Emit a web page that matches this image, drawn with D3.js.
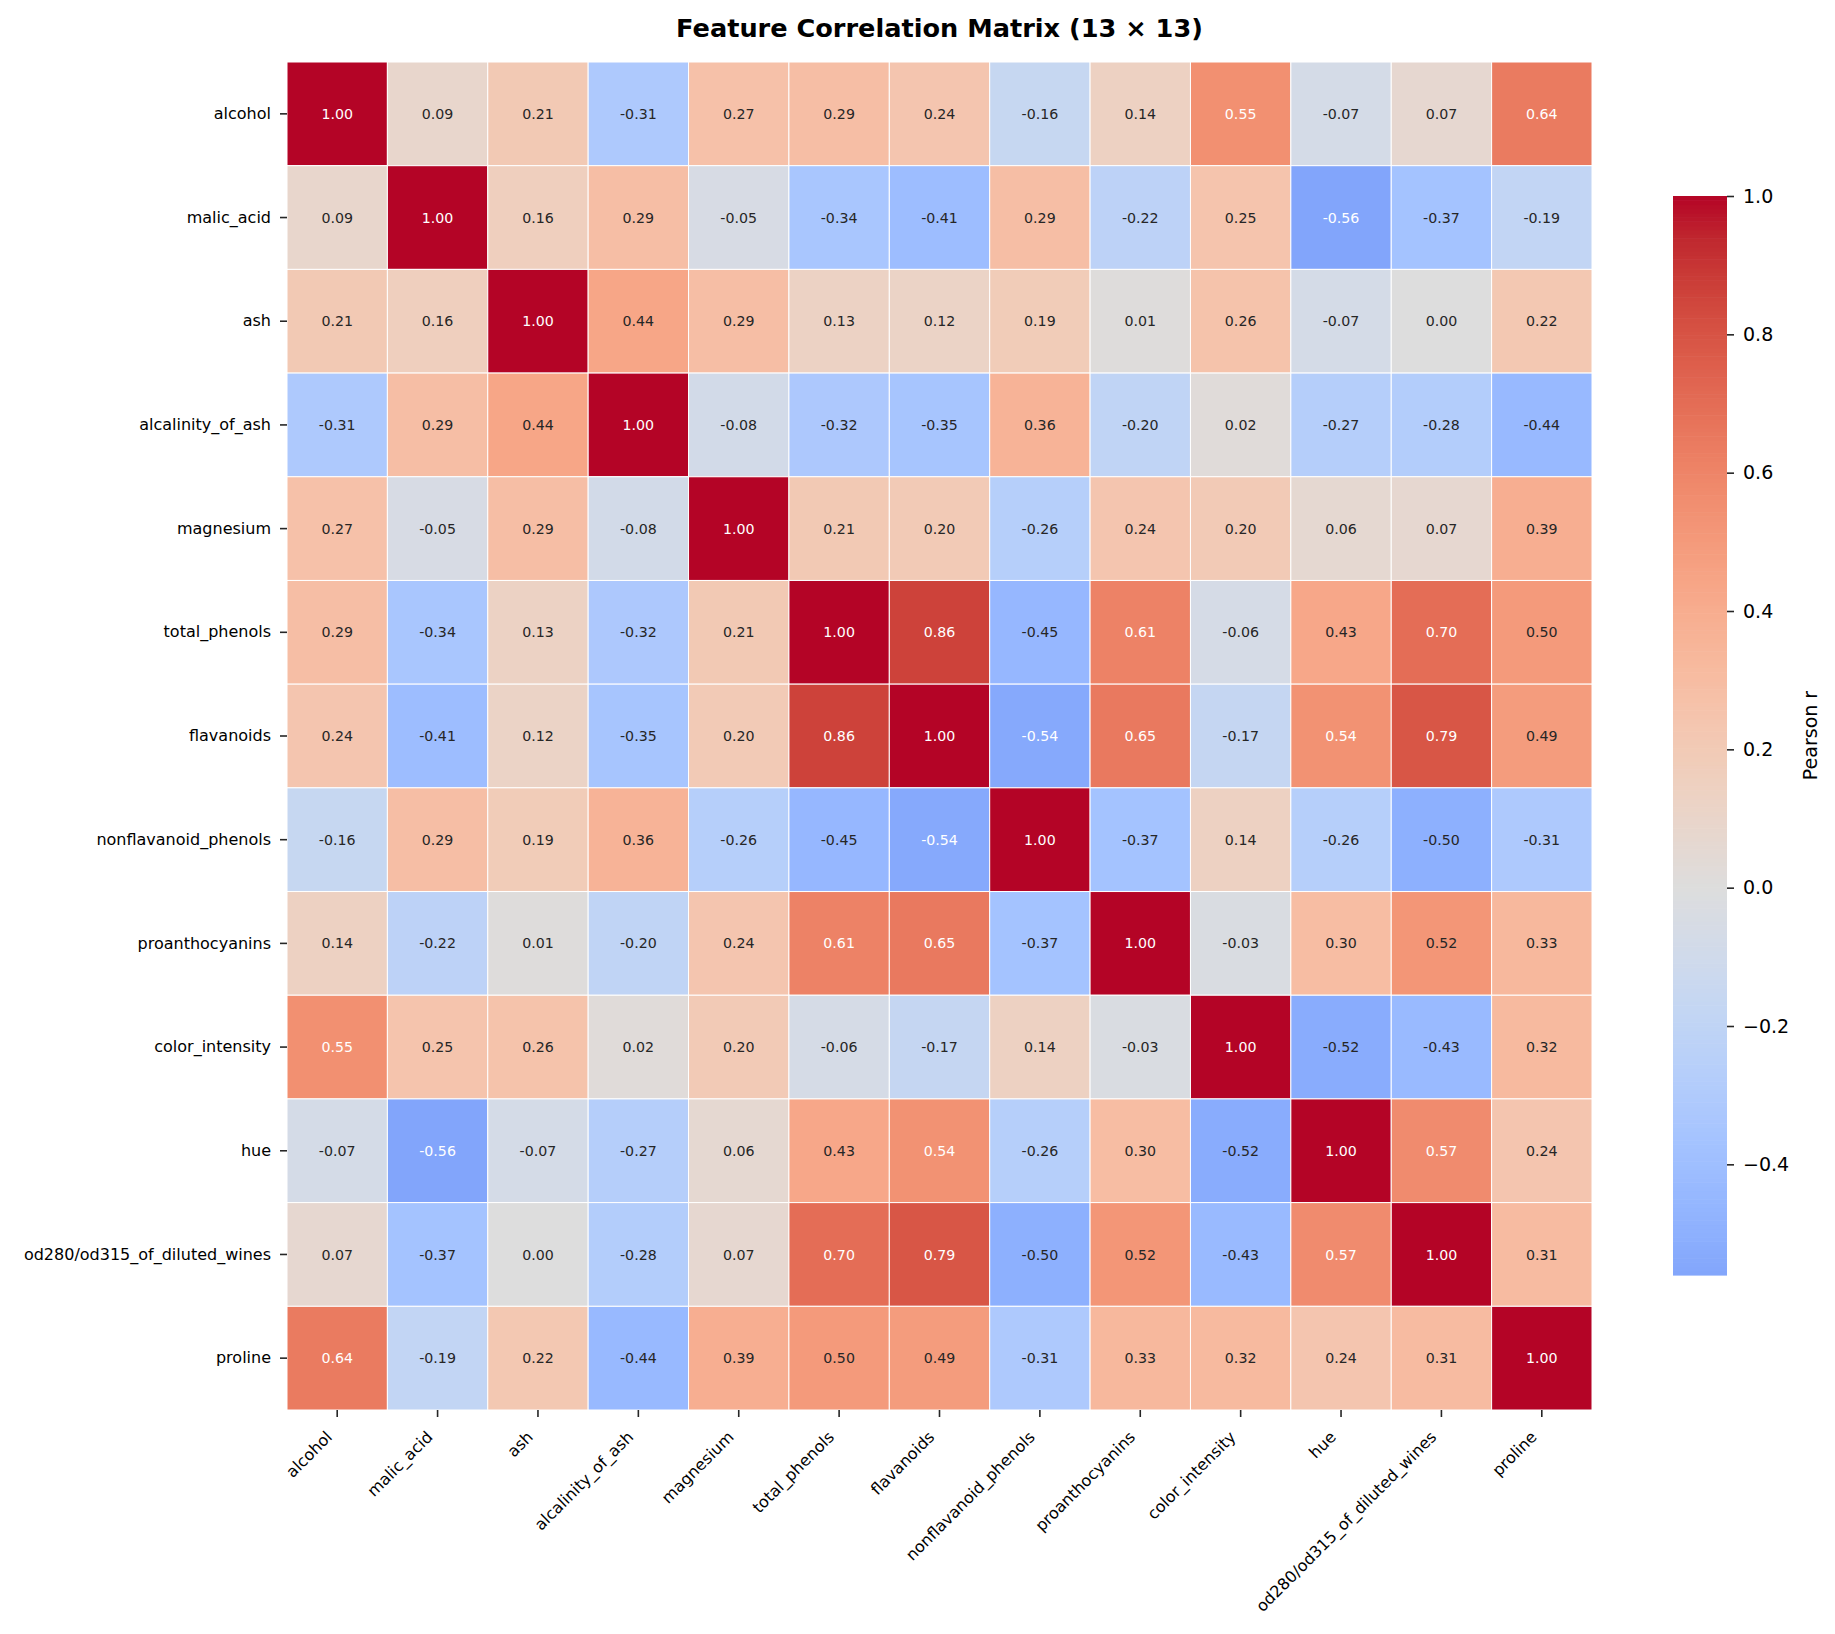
<!DOCTYPE html>
<html>
<head>
<meta charset="utf-8">
<script src="https://cdn.jsdelivr.net/npm/d3@7"></script>
<style>
  html, body { margin: 0; padding: 0; background: #fff; }
  svg text { font-family: "DejaVu Sans", sans-serif; }
</style>
</head>
<body>
<div id="chart"></div>
<script>
const FEATURES = [
  'alcohol', 'malic_acid', 'ash', 'alcalinity_of_ash', 'magnesium',
  'total_phenols', 'flavanoids', 'nonflavanoid_phenols', 'proanthocyanins',
  'color_intensity', 'hue', 'od280/od315_of_diluted_wines', 'proline'
];

// correlation rows, same order as FEATURES
const ROW_ALCOHOL = [1.00, 0.09, 0.21, -0.31, 0.27, 0.29, 0.24, -0.16, 0.14, 0.55, -0.07, 0.07, 0.64];
const ROW_MALIC = [0.09, 1.00, 0.16, 0.29, -0.05, -0.34, -0.41, 0.29, -0.22, 0.25, -0.56, -0.37, -0.19];
const ROW_ASH = [0.21, 0.16, 1.00, 0.44, 0.29, 0.13, 0.12, 0.19, 0.01, 0.26, -0.07, 0.00, 0.22];
const ROW_ALCALINITY = [-0.31, 0.29, 0.44, 1.00, -0.08, -0.32, -0.35, 0.36, -0.20, 0.02, -0.27, -0.28, -0.44];
const ROW_MAGNESIUM = [0.27, -0.05, 0.29, -0.08, 1.00, 0.21, 0.20, -0.26, 0.24, 0.20, 0.06, 0.07, 0.39];
const ROW_TOTAL_PHENOLS = [0.29, -0.34, 0.13, -0.32, 0.21, 1.00, 0.86, -0.45, 0.61, -0.06, 0.43, 0.70, 0.50];
const ROW_FLAVANOIDS = [0.24, -0.41, 0.12, -0.35, 0.20, 0.86, 1.00, -0.54, 0.65, -0.17, 0.54, 0.79, 0.49];
const ROW_NONFLAVANOID = [-0.16, 0.29, 0.19, 0.36, -0.26, -0.45, -0.54, 1.00, -0.37, 0.14, -0.26, -0.50, -0.31];
const ROW_PROANTHO = [0.14, -0.22, 0.01, -0.20, 0.24, 0.61, 0.65, -0.37, 1.00, -0.03, 0.30, 0.52, 0.33];
const ROW_COLOR = [0.55, 0.25, 0.26, 0.02, 0.20, -0.06, -0.17, 0.14, -0.03, 1.00, -0.52, -0.43, 0.32];
const ROW_HUE = [-0.07, -0.56, -0.07, -0.27, 0.06, 0.43, 0.54, -0.26, 0.30, -0.52, 1.00, 0.57, 0.24];
const ROW_OD280 = [0.07, -0.37, 0.00, -0.28, 0.07, 0.70, 0.79, -0.50, 0.52, -0.43, 0.57, 1.00, 0.31];
const ROW_PROLINE = [0.64, -0.19, 0.22, -0.44, 0.39, 0.50, 0.49, -0.31, 0.33, 0.32, 0.24, 0.31, 1.00];

const MATRIX = [
  ROW_ALCOHOL, ROW_MALIC, ROW_ASH, ROW_ALCALINITY, ROW_MAGNESIUM, ROW_TOTAL_PHENOLS,
  ROW_FLAVANOIDS, ROW_NONFLAVANOID, ROW_PROANTHO, ROW_COLOR, ROW_HUE, ROW_OD280, ROW_PROLINE
];

const CBAR_TICKS = [-0.4, -0.2, 0.0, 0.2, 0.4, 0.6, 0.8, 1.0];

// coolwarm colormap (Moreland table)
const COOLWARM = [
  [59,76,192],[68,90,204],[77,104,215],[87,117,225],[98,130,234],[108,142,241],
  [119,154,247],[130,165,251],[141,176,254],[152,185,255],[163,194,255],[174,201,253],
  [184,208,249],[194,213,244],[204,217,238],[213,219,230],[221,221,221],[229,216,209],
  [236,211,197],[241,204,184],[245,196,173],[247,187,160],[247,177,148],[247,166,135],
  [244,154,123],[241,141,111],[236,127,99],[229,112,88],[222,96,77],[213,80,66],
  [203,62,56],[192,40,47],[180,4,38]
];

const width = 1835, height = 1634;
const heat = { left: 287, right: 1592, top: 62, bottom: 1410 };
const cbar = { left: 1673, right: 1727, top: 196, bottom: 1275 };

const cmap = d3.scaleLinear()
  .domain(COOLWARM.map((_, i) => i / (COOLWARM.length - 1)))
  .range(COOLWARM.map(c => d3.rgb(c[0], c[1], c[2]).toString()))
  .interpolate(d3.interpolateRgb)
  .clamp(true);

// centered at 0 like seaborn's center=0
const colorOf = v => cmap((v + 1) / 2);

function luminance(color) {
  const c = d3.rgb(color);
  const lin = x => { x /= 255; return x <= 0.03928 ? x / 12.92 : Math.pow((x + 0.055) / 1.055, 2.4); };
  return 0.2126 * lin(c.r) + 0.7152 * lin(c.g) + 0.0722 * lin(c.b);
}

const cells = [];
MATRIX.forEach((row, i) => row.forEach((v, j) => cells.push({ row: FEATURES[i], col: FEATURES[j], v })));

const svg = d3.select('#chart').append('svg')
  .attr('width', width)
  .attr('height', height);

const x = d3.scaleBand().domain(FEATURES).range([heat.left, heat.right]);
const y = d3.scaleBand().domain(FEATURES).range([heat.top, heat.bottom]);

// title
svg.append('text')
  .attr('x', (heat.left + heat.right) / 2)
  .attr('y', 37)
  .attr('text-anchor', 'middle')
  .attr('font-size', '25.6px')
  .attr('font-weight', 'bold')
  .attr('fill', '#000')
  .text('Feature Correlation Matrix (13 \u00d7 13)');

// cells
svg.append('g').selectAll('rect')
  .data(cells)
  .join('rect')
  .attr('x', d => x(d.col))
  .attr('y', d => y(d.row))
  .attr('width', x.bandwidth())
  .attr('height', y.bandwidth())
  .attr('fill', d => colorOf(d.v))
  .attr('stroke', '#fff')
  .attr('stroke-width', 1);

svg.append('g').selectAll('text')
  .data(cells)
  .join('text')
  .attr('x', d => x(d.col) + x.bandwidth() / 2)
  .attr('y', d => y(d.row) + y.bandwidth() / 2)
  .attr('dy', '0.36em')
  .attr('text-anchor', 'middle')
  .attr('font-size', '14.2px')
  .attr('fill', d => luminance(colorOf(d.v)) > 0.408 ? '#262626' : '#fff')
  .text(d => d.v.toFixed(2));

// y axis
const yAxis = svg.append('g')
  .attr('transform', `translate(${heat.left},0)`)
  .call(d3.axisLeft(y).tickSize(7).tickPadding(9));
yAxis.select('.domain').remove();
yAxis.selectAll('line').attr('stroke', '#262626').attr('stroke-width', 1.6);
yAxis.selectAll('text').attr('font-size', '16px').attr('fill', '#000');

// x axis, rotated labels
const xAxis = svg.append('g')
  .attr('transform', `translate(0,${heat.bottom})`)
  .call(d3.axisBottom(x).tickSize(7).tickFormat(''));
xAxis.select('.domain').remove();
xAxis.selectAll('line').attr('stroke', '#262626').attr('stroke-width', 1.6);

svg.append('g').selectAll('text')
  .data(FEATURES)
  .join('text')
  .attr('transform', d => `translate(${x(d) + x.bandwidth() / 2 - 4},${heat.bottom + 28}) rotate(-45)`)
  .attr('text-anchor', 'end')
  .attr('font-size', '16px')
  .attr('fill', '#000')
  .text(d => d);

// colorbar
const vmin = d3.min(MATRIX.flat());
const cy = d3.scaleLinear().domain([vmin, 1]).range([cbar.bottom, cbar.top]);
const steps = d3.range(256).map(k => vmin + (1 - vmin) * k / 256);
const stepH = (1 - vmin) / 256;

svg.append('g').selectAll('rect')
  .data(steps)
  .join('rect')
  .attr('x', cbar.left)
  .attr('width', cbar.right - cbar.left)
  .attr('y', d => cy(d + stepH))
  .attr('height', d => cy(d) - cy(d + stepH) + 0.6)
  .attr('fill', d => colorOf(d + stepH / 2));

const cAxis = svg.append('g')
  .attr('transform', `translate(${cbar.right},0)`)
  .call(d3.axisRight(cy).tickValues(CBAR_TICKS).tickSize(7).tickPadding(9)
    .tickFormat(d => d3.format('.1f')(d).replace('-', '\u2212')));
cAxis.select('.domain').remove();
cAxis.selectAll('line').attr('stroke', '#262626').attr('stroke-width', 1.6);
cAxis.selectAll('text').attr('font-size', '19px').attr('fill', '#000');

svg.append('text')
  .attr('transform', `translate(1817,${(cbar.top + cbar.bottom) / 2}) rotate(-90)`)
  .attr('text-anchor', 'middle')
  .attr('font-size', '19px')
  .attr('fill', '#000')
  .text('Pearson r');
</script>
</body>
</html>
